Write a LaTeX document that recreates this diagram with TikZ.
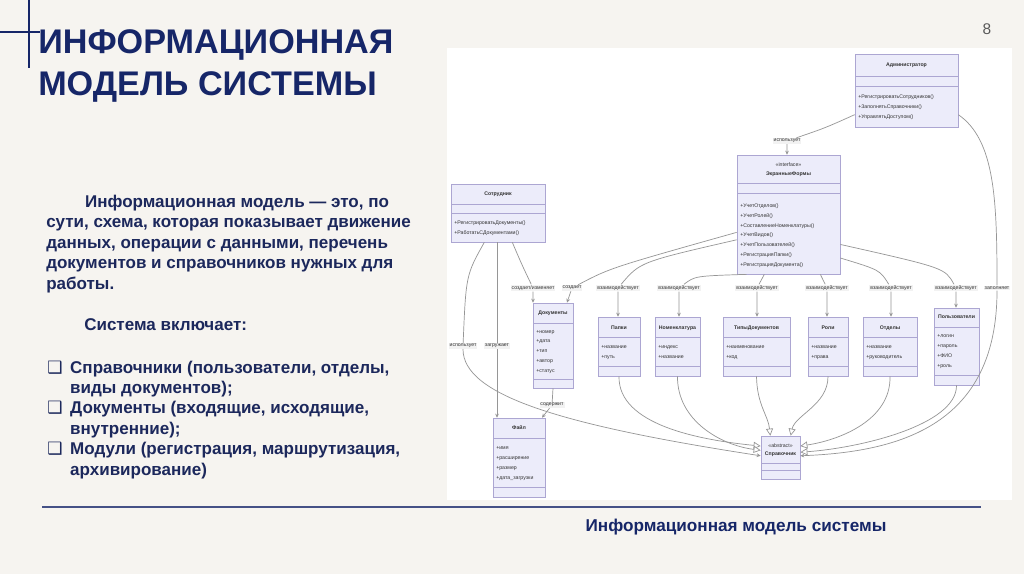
\documentclass[tikz,border=0pt]{standalone}
\usepackage{fontspec}
\setmainfont{Liberation Sans}
\newfontfamily\symfont{DejaVu Sans}
\usepackage{tikz}
\usetikzlibrary{arrows.meta,positioning,fit,calc}

\definecolor{slidebg}{RGB}{246,244,240}
\definecolor{navy}{RGB}{22,38,104}
\definecolor{bodyblue}{RGB}{28,40,92}
\definecolor{umlfill}{RGB}{236,236,250}
\definecolor{umlline}{RGB}{172,166,210}
\definecolor{umltext}{RGB}{51,51,51}
\definecolor{edgeline}{RGB}{150,150,150}
\definecolor{labelbg}{RGB}{242,242,242}
\newcommand{\umlfont}{\fontsize{3.7}{6.9}\selectfont}

\tikzset{
  cls/.style={draw=umlline, fill=umlfill, line width=0.5pt, inner sep=0pt},
  cname/.style={font=\umlfont\bfseries, text=umltext, inner sep=0pt},
  cstereo/.style={font=\umlfont, text=umltext, inner sep=0pt},
  cmemb/.style={font=\umlfont, text=umltext, align=left, anchor=base west, inner sep=0pt},
  cdiv/.style={draw=umlline, line width=0.5pt},
  elabel/.style={font=\umlfont, text=umltext, fill=labelbg, inner sep=0.7pt},
  assoc/.style={draw=edgeline, line width=0.5pt, -{Stealth[length=2.8pt,width=2.6pt]}},
  inh/.style={draw=edgeline, line width=0.5pt, -{Triangle[length=5pt,width=5pt,fill=white]}},
  slidetext/.style={font=\fontsize{12.1}{14.5}\selectfont\bfseries, text=bodyblue, align=left, anchor=base west, inner sep=0pt}
}

\begin{document}
\begin{tikzpicture}[x=0.025cm,y=-0.025cm]
\fill[slidebg] (0,0) rectangle (1024,574);
\useasboundingbox (0,0) rectangle (1024,574);
\draw[navy, line width=0.8pt] (29,0) -- (29,68);
\draw[navy, line width=0.8pt] (0,32) -- (40,32);
\node[font=\fontsize{24.3}{29.8}\selectfont\bfseries, text=navy, align=left, anchor=base west, inner sep=0pt] (title) at (38,95) {ИНФОРМАЦИОННАЯ\\МОДЕЛЬ СИСТЕМЫ};
\node[font=\fontsize{11}{13}\selectfont, text=gray!70!black] (pagenum) at (987,29) {8};

\node[slidetext] (intro) at (46,289) {\hspace*{27.6pt}Информационная модель — это, по\\сути, схема, которая показывает движение\\данных, операции с данными, перечень\\документов и справочников нужных для\\работы.};
\node[slidetext] (incl) at (84,330) {Система включает:};
\node[slidetext] (items) at (47,475) {\makebox[16.3pt][l]{\symfont ❑}Справочники (пользователи, отделы,\\\hspace*{16.3pt}виды документов);\\\makebox[16.3pt][l]{\symfont ❑}Документы (входящие, исходящие,\\\hspace*{16.3pt}внутренние);\\\makebox[16.3pt][l]{\symfont ❑}Модули (регистрация, маршрутизация,\\\hspace*{16.3pt}архивирование)};

\fill[white] (447,48) rectangle (1012,500);
\draw[navy!80, line width=1pt] (42,507) -- (981,507);
\node[font=\fontsize{12.2}{15}\selectfont\bfseries, text=navy] (caption) at (736,527) {Информационная модель системы};

\node[cls, fit={(855,54) (958,127)}] (adm) {};
\node[cname] (admT) at (906.5,65) {Администратор};
\draw[cdiv] (855,76) -- (958,76) (855,86) -- (958,86);
\node[cmemb] (admM) at (858,118) {+РегистрироватьСотрудников()\\+ЗаполнятьСправочники()\\+УправлятьДоступом()};

\node[cls, fit={(737,155) (840,274)}] (forms) {};
\node[cstereo] (formsS) at (788.5,165) {«interface»};
\node[cname] (formsT) at (788.5,174) {ЭкранныеФормы};
\draw[cdiv] (737,183) -- (840,183) (737,193) -- (840,193);
\node[cmemb] (formsM) at (740,266) {+УчетОтделов()\\+УчетРолей()\\+СоставлениеНоменклатуры()\\+УчетВидов()\\+УчетПользователей()\\+РегистрацияПапки()\\+РегистрацияДокумента()};

\node[cls, fit={(451,184) (545,242)}] (emp) {};
\node[cname] (empT) at (498,194) {Сотрудник};
\draw[cdiv] (451,204) -- (545,204) (451,213) -- (545,213);
\node[cmemb] (empM) at (454,234) {+РегистрироватьДокументы()\\+РаботатьСДокументами()};

\node[cls, fit={(533,303) (573,388)}] (docs) {};
\node[cname] (docsT) at (553,313) {Документы};
\draw[cdiv] (533,323) -- (573,323) (533,379) -- (573,379);
\node[cmemb] (docsA) at (536,372) {+номер\\+дата\\+тип\\+автор\\+статус};

\node[cls, fit={(598,317) (640,376)}] (folders) {};
\node[cname] (foldersT) at (619,328) {Папки};
\draw[cdiv] (598,337) -- (640,337) (598,366) -- (640,366);
\node[cmemb] (foldersA) at (601,358) {+название\\+путь};

\node[cls, fit={(655,317) (700,376)}] (nomen) {};
\node[cname] (nomenT) at (677.5,328) {Номенклатура};
\draw[cdiv] (655,337) -- (700,337) (655,366) -- (700,366);
\node[cmemb] (nomenA) at (658,358) {+индекс\\+название};

\node[cls, fit={(723,317) (790,376)}] (dtypes) {};
\node[cname] (dtypesT) at (756.5,328) {ТипыДокументов};
\draw[cdiv] (723,337) -- (790,337) (723,366) -- (790,366);
\node[cmemb] (dtypesA) at (726,358) {+наименование\\+код};

\node[cls, fit={(808,317) (848,376)}] (roles) {};
\node[cname] (rolesT) at (828,328) {Роли};
\draw[cdiv] (808,337) -- (848,337) (808,366) -- (848,366);
\node[cmemb] (rolesA) at (811,358) {+название\\+права};

\node[cls, fit={(863,317) (917,376)}] (depts) {};
\node[cname] (deptsT) at (890,328) {Отделы};
\draw[cdiv] (863,337) -- (917,337) (863,366) -- (917,366);
\node[cmemb] (deptsA) at (866,358) {+название\\+руководитель};

\node[cls, fit={(934,308) (979,385)}] (users) {};
\node[cname] (usersT) at (956.5,317) {Пользователи};
\draw[cdiv] (934,327) -- (979,327) (934,375) -- (979,375);
\node[cmemb] (usersA) at (937,367) {+логин\\+пароль\\+ФИО\\+роль};

\node[cls, fit={(493,418) (545,497)}] (file) {};
\node[cname] (fileT) at (519,428) {Файл};
\draw[cdiv] (493,438) -- (545,438) (493,487) -- (545,487);
\node[cmemb] (fileA) at (496,479) {+имя\\+расширение\\+размер\\+дата\_загрузки};

\node[cls, fit={(761,436) (800,479)}] (ref) {};
\node[cstereo] (refS) at (780.5,446) {«abstract»};
\node[cname] (refT) at (780.5,454) {Справочник};
\draw[cdiv] (761,463) -- (800,463) (761,470) -- (800,470);

\node[elabel] (lUseForms) at (787,141) {использует};
\node[elabel] (lFill) at (997,288) {заполняет};
\node[elabel] (lCrEd) at (533,288) {создает/изменяет};
\node[elabel] (lCr) at (572,288) {создает};
\node[elabel] (lFold) at (618,288) {взаимодействует};
\node[elabel] (lNom) at (679,288) {взаимодействует};
\node[elabel] (lTypes) at (757,288) {взаимодействует};
\node[elabel] (lRoles) at (827,288) {взаимодействует};
\node[elabel] (lDepts) at (891,288) {взаимодействует};
\node[elabel] (lUsers) at (956,288) {взаимодействует};
\node[elabel] (lUseRef) at (463,346) {использует};
\node[elabel] (lLoad) at (497,346) {загружает};
\node[elabel] (lCont) at (552,405) {содержит};

\draw[assoc] (adm.205) .. controls (825,128) .. (lUseForms) -- (lUseForms |- forms.north);
\draw[assoc] (adm.335) .. controls (995,140) and (997,200) .. (lFill) .. controls (997,425) and (900,452) .. (ref.5);
\draw[assoc] (emp.296) .. controls (522,265) .. (lCrEd) -- (lCrEd |- docs.north);
\draw[assoc] (forms.199) .. controls (610,268) .. (lCr) -- (docs.72);
\draw[assoc] (forms.206) .. controls (640,262) .. (lFold) -- (lFold |- folders.north);
\draw[assoc] (forms.235) .. controls (695,276) .. (lNom) -- (lNom |- nomen.north);
\draw[assoc] (forms.248) -- (lTypes) -- (lTypes |- dtypes.north);
\draw[assoc] (forms.298) -- (lRoles) -- (lRoles |- roles.north);
\draw[assoc] (forms.320) .. controls (880,270) .. (lDepts) -- (lDepts |- depts.north);
\draw[assoc] (forms.330) .. controls (945,268) .. (lUsers) -- (lUsers |- users.north);
\draw[assoc] (emp.south -| lLoad) -- (lLoad) -- (lLoad |- file.north);
\draw[assoc] (emp.245) .. controls (466,275) .. (lUseRef) .. controls (463,395) and (560,425) .. (ref.175);
\draw[assoc] (docs.south) -- (lCont) -- (file.60);

\draw[inh] (folders.south) .. controls (618,425) and (700,440) .. (ref.150);
\draw[inh] (nomen.south) .. controls (677,420) and (720,445) .. (ref.160);
\draw[inh] (dtypes.south) .. controls (757,405) and (768,415) .. (ref.115);
\draw[inh] (roles.south) .. controls (828,405) and (795,415) .. (ref.65);
\draw[inh] (depts.south) .. controls (891,420) and (840,440) .. (ref.30);
\draw[inh] (users.south) .. controls (957,425) and (860,448) .. (ref.15);
\end{tikzpicture}
\end{document}
